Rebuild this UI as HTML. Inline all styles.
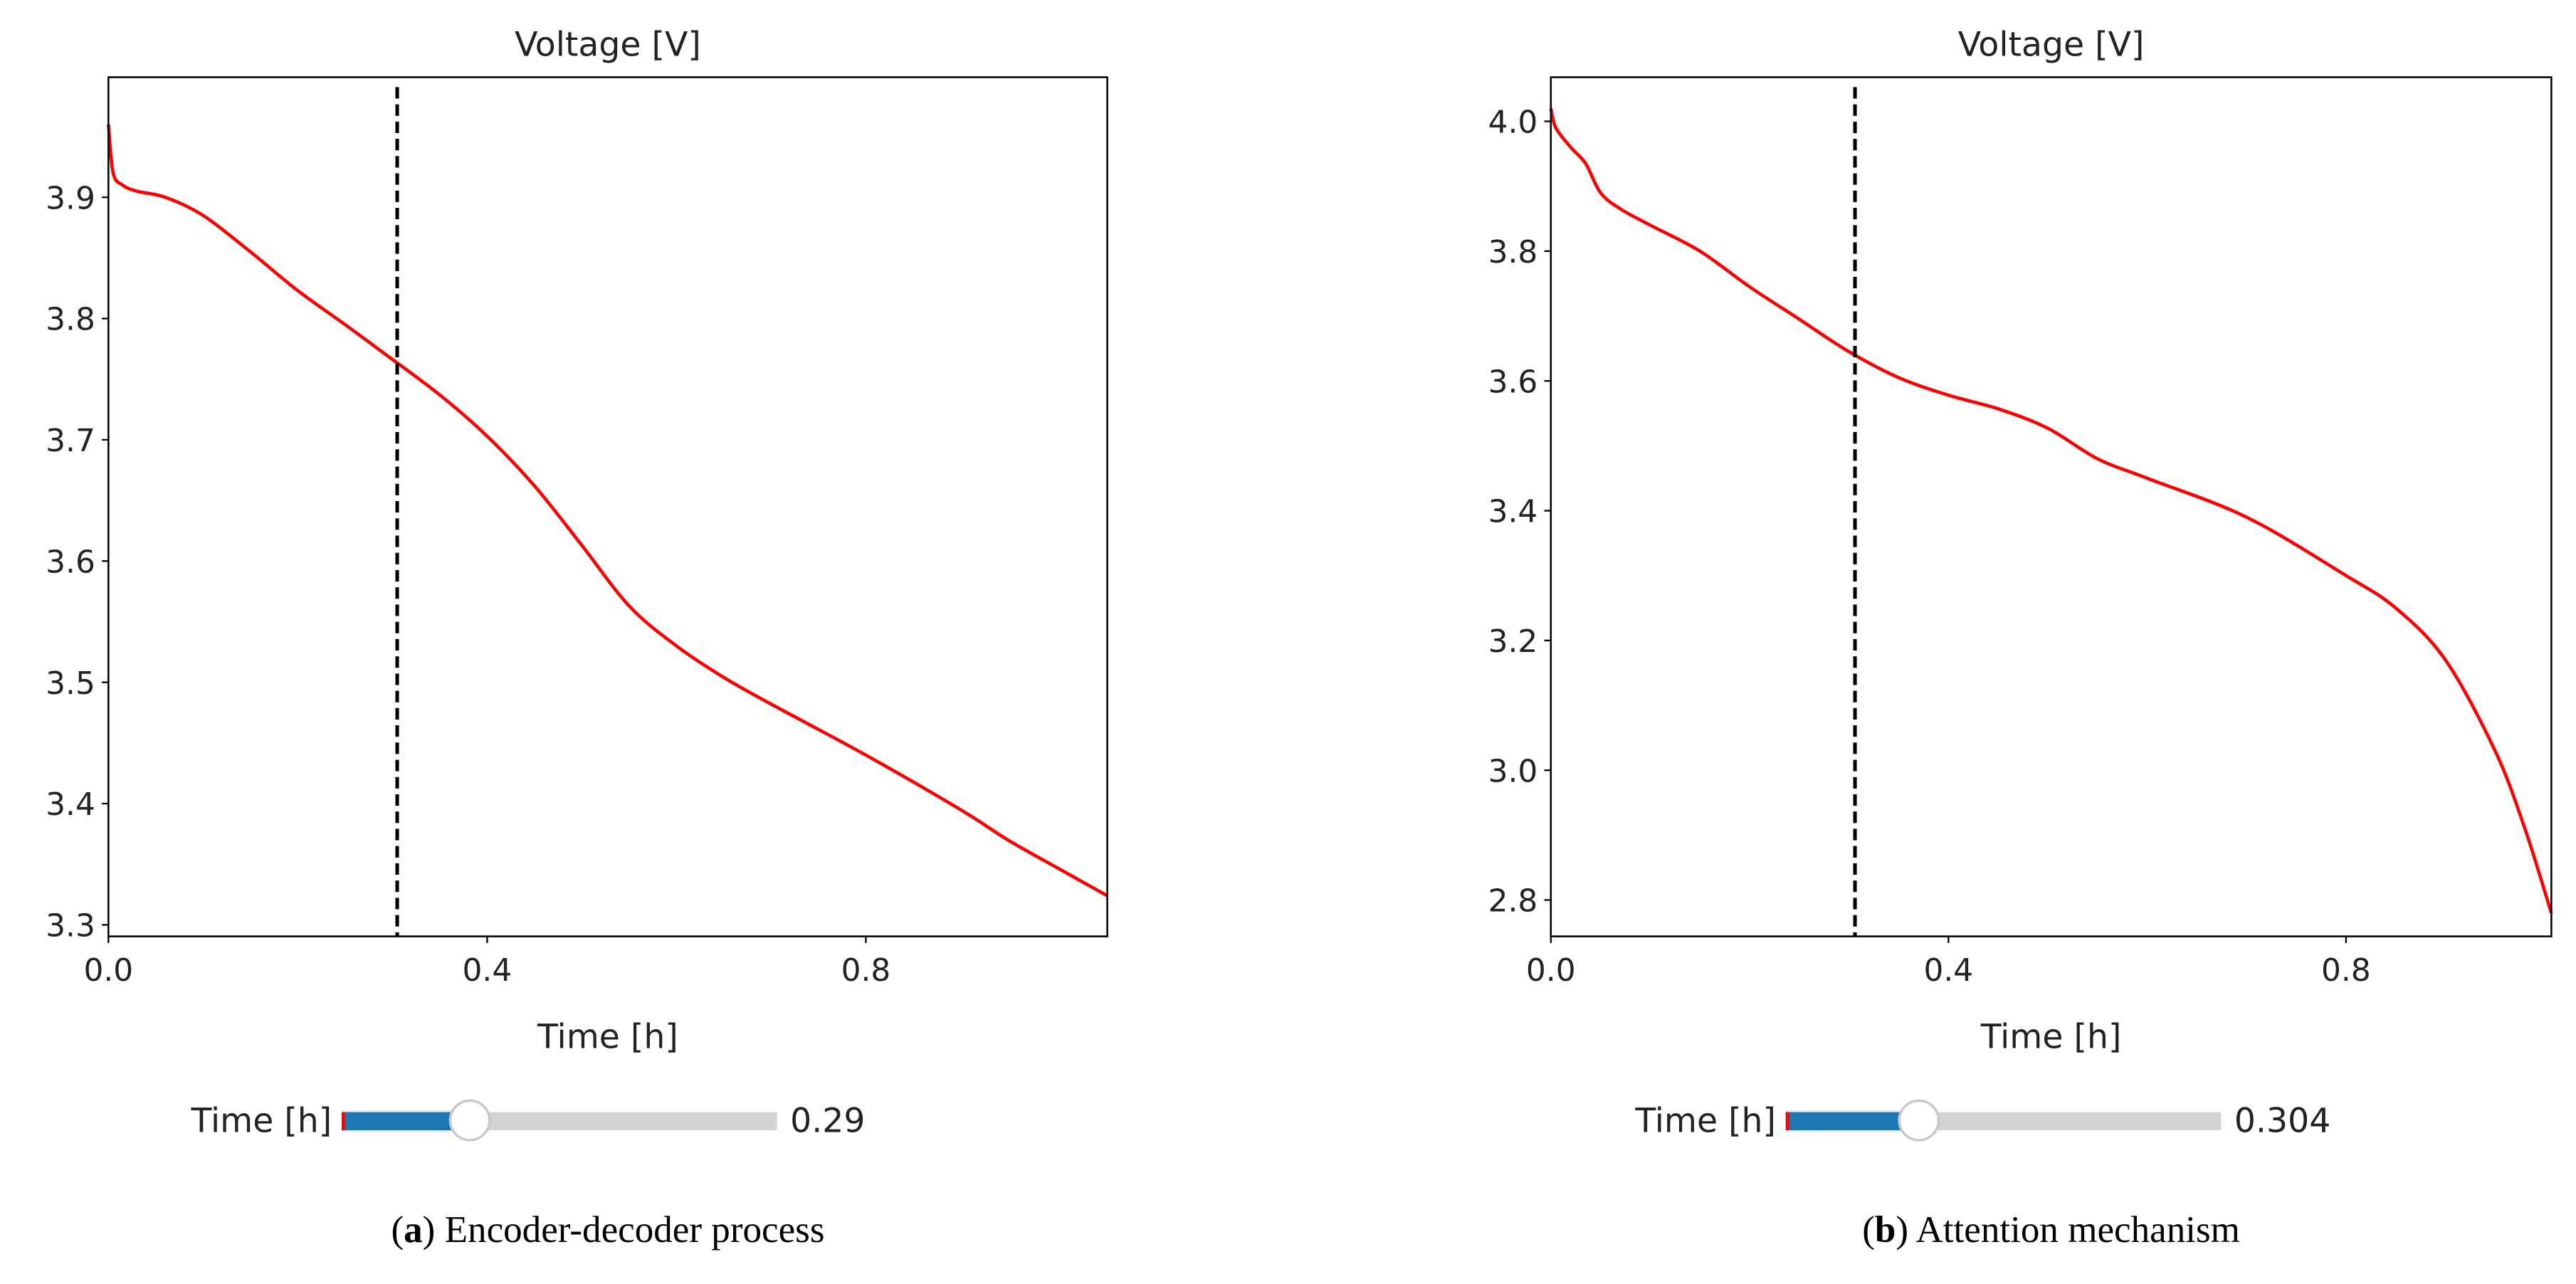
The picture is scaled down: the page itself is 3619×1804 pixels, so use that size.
<!DOCTYPE html>
<html><head><meta charset="utf-8"><style>
html,body{margin:0;padding:0;background:#fff;}
svg{display:block;}
text{font-family:"DejaVu Sans","Liberation Sans",sans-serif;fill:#222;}
.cap{font-family:"Liberation Serif",serif;fill:#000;}
</style></head><body>
<svg id="fig" width="3619" height="1804" viewBox="0 0 1568 781.6" xmlns="http://www.w3.org/2000/svg"></svg>
<script>
// Panel (a) data
const aTime = [0,0.005,0.015,0.03,0.06,0.1,0.15,0.2,0.25,0.29,0.35,0.4,0.45,0.5,0.55,0.6,0.65,0.7,0.8,0.9,0.95,1.0,1.055];
const aVolt = [3.96,3.92,3.91,3.905,3.90,3.885,3.855,3.823,3.795,3.772,3.737,3.703,3.662,3.613,3.563,3.53,3.504,3.482,3.44,3.395,3.37,3.348,3.324];
const aYTicks = [3.3,3.4,3.5,3.6,3.7,3.8,3.9];
const aXTicks = [0.0,0.4,0.8];
const aCursor = 0.305;
const aSliderLabel = "0.29";
// Panel (b) data
const bTime = [0,0.005,0.02,0.035,0.05,0.07,0.1,0.15,0.2,0.25,0.3,0.35,0.4,0.45,0.5,0.55,0.6,0.7,0.8,0.85,0.9,0.95,0.98,1.0066];
const bVolt = [4.02,3.99,3.96,3.935,3.89,3.865,3.84,3.80,3.745,3.695,3.645,3.605,3.578,3.557,3.527,3.48,3.45,3.39,3.30,3.25,3.17,3.03,2.91,2.78];
const bYTicks = [2.8,3.0,3.2,3.4,3.6,3.8,4.0];
const bXTicks = [0.0,0.4,0.8];
const bCursor = 0.306;
const bSliderLabel = "0.304";

const NS="http://www.w3.org/2000/svg";
const svg=document.getElementById('fig');
function mk(tag,attrs,parent){const e=document.createElementNS(NS,tag);for(const k in attrs)e.setAttribute(k,attrs[k]);(parent||svg).appendChild(e);return e;}
function smooth(p){
  let d='M'+p[0][0].toFixed(2)+','+p[0][1].toFixed(2);
  for(let i=0;i<p.length-1;i++){
    const p0=p[i-1]||p[i],p1=p[i],p2=p[i+1],p3=p[i+2]||p2;
    const c1=[p1[0]+(p2[0]-p0[0])/6,p1[1]+(p2[1]-p0[1])/6];
    const c2=[p2[0]-(p3[0]-p1[0])/6,p2[1]-(p3[1]-p1[1])/6];
    d+=' C'+c1.map(v=>v.toFixed(2)).join(',')+' '+c2.map(v=>v.toFixed(2)).join(',')+' '+p2.map(v=>v.toFixed(2)).join(',');
  }
  return d;
}
function panel(o){
  const g=mk('g',{});
  
  
  const sx=v=>o.x0+(v-o.xmin)/(o.xmax-o.xmin)*(o.x1-o.x0);
  const sy=v=>o.y1-(v-o.ymin)/(o.ymax-o.ymin)*(o.y1-o.y0);
  const t=mk('text',{x:(o.x0+o.x1)/2,y:34,'text-anchor':'middle','font-size':20.5},g);
  t.textContent='Voltage [V]';
  
  
  const pts=o.t.map((v,i)=>[sx(v),sy(o.v[i])]);
  const pl=mk('path',{d:smooth(pts),fill:'none',stroke:'#ff0000','stroke-width':2,'stroke-linejoin':'round'},g);
  
  
  const cl=mk('line',{x1:sx(o.cursor),x2:sx(o.cursor),y1:o.y0+6,y2:o.y1,stroke:'#000','stroke-width':2.2,'stroke-dasharray':'7,3.5'},g);
  
  
  const fr=mk('rect',{x:o.x0,y:o.y0,width:o.x1-o.x0,height:o.y1-o.y0,fill:'none',stroke:'#000','stroke-width':1.1},g);
  
  
  o.yt.forEach(v=>{
    const y=sy(v);
    mk('line',{x1:o.x0-4,x2:o.x0,y1:y,y2:y,stroke:'#000','stroke-width':1},g);
    const tx=mk('text',{x:o.x0-8,y:y+7,'text-anchor':'end','font-size':19},g);
    tx.textContent=v.toFixed(1);
    
    
  });
  o.xt.forEach(v=>{
    const x=sx(v);
    mk('line',{x1:x,x2:x,y1:o.y1,y2:o.y1+4,stroke:'#000','stroke-width':1},g);
    const tx=mk('text',{x:x,y:o.y1+27,'text-anchor':'middle','font-size':19},g);
    tx.textContent=v.toFixed(1);
    
    
  });
  const xl=mk('text',{x:(o.x0+o.x1)/2,y:638,'text-anchor':'middle','font-size':20.5},g);
  xl.textContent='Time [h]';
  
  
  const sl=mk('g',{},g);
  
  
  const lb=mk('text',{x:o.s0-6,y:689,'text-anchor':'end','font-size':20.5},sl);
  lb.textContent='Time [h]';
  
  
  mk('rect',{x:o.s0,y:677,width:o.s1-o.s0,height:11,fill:'#d3d3d3'},sl);
  mk('rect',{x:o.s0,y:676,width:o.knob-o.s0,height:13,fill:'#dce8f2'},sl);
  mk('rect',{x:o.s0,y:677,width:o.knob-o.s0,height:11,fill:'#1f77b4'},sl);
  mk('rect',{x:o.s0,y:677,width:2,height:11,fill:'#ff0000'},sl);
  const kn=mk('ellipse',{cx:o.knob,cy:682,rx:12,ry:12,fill:'#fff',stroke:'#c8c8c8','stroke-width':1.5},sl);
  
  
  const vl=mk('text',{x:o.s1+8,y:689,'font-size':20.5},sl);
  vl.textContent=o.sval;
  
  
  const cap=mk('text',{x:(o.x0+o.x1)/2,y:756,'text-anchor':'middle','font-size':23,class:'cap'},g);
  cap.innerHTML='('+'<tspan font-weight="bold">'+o.letter+'</tspan>) '+o.caption;
  
  
}
panel({name:'panel-a-encoder-decoder',x0:66,x1:674,y0:47,y1:570,xmin:0,xmax:1.055,ymin:3.2905,ymax:3.999,t:aTime,v:aVolt,yt:aYTicks,xt:aXTicks,cursor:aCursor,s0:208,s1:473,knob:286,sval:aSliderLabel,letter:'a',caption:'Encoder-decoder process'});
panel({name:'panel-b-attention',x0:944,x1:1553,y0:47,y1:570,xmin:0,xmax:1.0066,ymin:2.744,ymax:4.068,t:bTime,v:bVolt,yt:bYTicks,xt:bXTicks,cursor:bCursor,s0:1087,s1:1352,knob:1168,sval:bSliderLabel,letter:'b',caption:'Attention mechanism'});
</script>
</body></html>
